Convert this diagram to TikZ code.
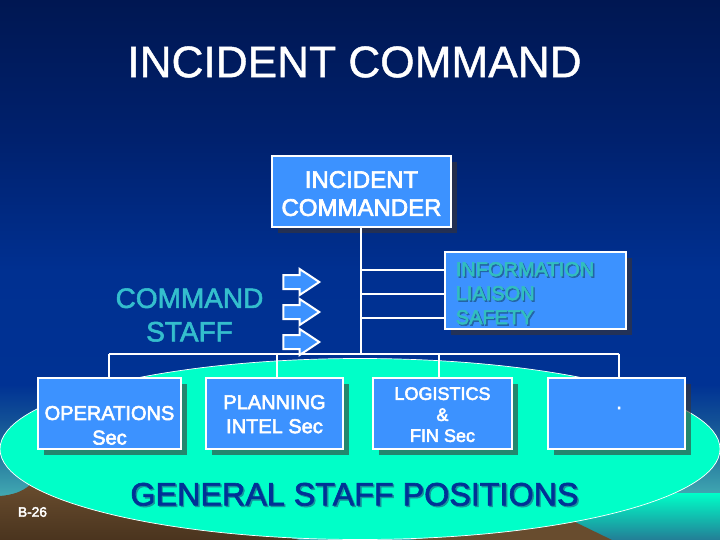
\documentclass[tikz,border=0pt]{standalone}
\usepackage{fontspec}
\setmainfont[FakeBold=1]{Liberation Sans}
\newfontfamily\heavy[FakeBold=3]{Liberation Sans}
\newfontfamily\semi[FakeBold=2]{Liberation Sans}
\usetikzlibrary{shapes.geometric,shapes.arrows,shadows}
\definecolor{boxblue}{RGB}{60,146,255}
\definecolor{shadowc}{RGB}{60,51,47}
\definecolor{seafoam}{RGB}{0,255,200}
\definecolor{tealtxt}{RGB}{52,190,205}
\definecolor{infotxt}{RGB}{50,190,190}
\definecolor{infosh}{RGB}{35,100,165}
\definecolor{gentxt}{RGB}{0,50,150}
\definecolor{gensh}{RGB}{20,150,155}
\definecolor{brownA}{RGB}{104,76,46}
\definecolor{brownB}{RGB}{74,52,30}
\definecolor{waterB}{RGB}{35,125,150}
\definecolor{skyA}{RGB}{0,23,82}
\definecolor{skyB}{RGB}{0,33,110}
\definecolor{skyC}{RGB}{0,48,145}
\definecolor{skyD}{RGB}{0,50,148}
\definecolor{skyE}{RGB}{18,80,150}
\definecolor{skyF}{RGB}{40,125,160}
\definecolor{skyG}{RGB}{65,168,178}
\newcommand{\bt}[5]{\smash{\raisebox{#1}{\heavy\fontsize{#2}{#3}\selectfont\begin{tabular}[c]{@{}#4@{}}#5\end{tabular}}}}
\newcommand{\sh}[3]{\makebox[0pt][l]{\hspace{1.4pt}\raisebox{-1.4pt}{\textcolor{#2}{#1}}}\textcolor{#3}{#1}}
\newcommand{\sky}[4]{\shade[top color=#1,bottom color=#2] (0,#3) rectangle (720,#4);}
\tikzset{
 x=1pt,y=-1pt,
 orgbox/.style={draw=white,line width=2.4pt,fill=boxblue,text=white,inner sep=0pt,
   general shadow={fill=shadowc,fill opacity=.59,draw=none,shadow xshift=6pt,shadow yshift=-6pt}},
 link/.style={draw=white,line width=2pt},
 staffarrow/.style={single arrow,draw=white,line width=2pt,fill=boxblue,inner sep=0pt,
   text height=12pt,text depth=0pt,text width=0pt,minimum height=36pt,single arrow head extend=6pt,
   single arrow head indent=0pt,single arrow tip angle=67},
 free/.style={inner sep=0pt,outer sep=0pt}
}
\begin{document}
\begin{tikzpicture}
\useasboundingbox (0,0) rectangle (720,540);
\clip (0,0) rectangle (720,540);
\sky{skyG}{skyG}{494}{540}
\sky{skyF}{skyG}{459.5}{495}
\sky{skyE}{skyF}{419.5}{460}
\sky{skyD}{skyE}{384.5}{420}
\sky{skyC}{skyD}{269.5}{385}
\sky{skyB}{skyC}{139.5}{270}
\sky{skyA}{skyB}{0}{140}
% water, right corner
\shade[top color=seafoam,bottom color=waterB] (560,493) rectangle (720,540);
% brown land
\shade[top color=brownA,bottom color=brownB] (0,496) .. controls (12,495) and (22,492) .. (30,485) -- (300,540) -- (0,540) -- cycle;
\fill[brownA] (575,522) -- (614,541) -- (400,541) -- cycle;
% island
\node[ellipse,draw=white,line width=.7pt,fill=seafoam,minimum width=720pt,minimum height=181pt,inner sep=0pt] (island) at (360,449) {};

\node[free,text=white,font=\fontsize{44.2}{50}\selectfont] (title) at (354.5,62) {INCIDENT COMMAND};

\coordinate (top) at (360.5,227);
\coordinate (bus) at (360.5,353.5);
\coordinate (busL) at (109,353.5);
\coordinate (busR) at (619,353.5);
\coordinate (dropB) at (277,353.5);
\coordinate (dropC) at (439,353.5);

\node[orgbox,minimum width=179pt,minimum height=71pt] (ic) at (361.5,191.5)
  {\bt{-11pt}{24}{28}{c}{INCIDENT\\COMMANDER}};
\node[orgbox,minimum width=181pt,minimum height=77pt] (info) at (535.5,290.5)
  {\hspace*{-21pt}\bt{-10pt}{20}{24}{l}{\sh{INFORMATION}{infosh}{infotxt}\\\sh{LIAISON}{infosh}{infotxt}\\\sh{SAFETY}{infosh}{infotxt}}};
\node[orgbox,minimum width=143pt,minimum height=71pt] (ops) at (109.5,413.5)
  {\bt{-19pt}{20}{24.5}{c}{OPERATIONS\\Sec}};
\node[orgbox,minimum width=137pt,minimum height=71pt] (plan) at (274.5,413.5)
  {\bt{-8pt}{20}{24}{c}{PLANNING\\INTEL Sec}};
\node[orgbox,minimum width=139pt,minimum height=71pt] (log) at (442.5,413.5)
  {\bt{-7.5pt}{18}{21}{c}{LOGISTICS\\\&\\FIN Sec}};
\node[orgbox,minimum width=137pt,minimum height=71pt] (blank) at (616.5,413.5)
  {\hspace*{5pt}\bt{4pt}{20}{24}{c}{.}};

\draw[link] (top) -- (bus);
\draw[link] (busL) -- (ops.north -| busL);
\draw[link] (dropB) -- (plan.north -| dropB);
\draw[link] (dropC) -- (log.north -| dropC);
\draw[link] (busR) -- (blank.north -| busR);
\draw[link] (360.5,269.5) coordinate (t1) -- (t1 -| info.west);
\draw[link] (360.5,293.5) coordinate (t2) -- (t2 -| info.west);
\draw[link] (360.5,317.5) coordinate (t3) -- (t3 -| info.west);

\node[staffarrow] (a1) at (296,282) {};
\node[staffarrow] (a2) at (296,312) {};
\node[staffarrow] (a3) at (296,342) {};
\draw[link] (busL) -- (busR);

\node[free,text=tealtxt,font=\semi\fontsize{28}{33.5}\selectfont,align=center] (cs) at (189.5,315) {COMMAND\\STAFF};
\node[free,font=\semi\fontsize{32.3}{38}\selectfont] (gen) at (354.5,495) {\sh{GENERAL STAFF POSITIONS}{gensh}{gentxt}};
\node[free,text=white,font=\heavy\fontsize{13.7}{15}\selectfont] (pg) at (32.5,512) {B-26};
\end{tikzpicture}
\end{document}
